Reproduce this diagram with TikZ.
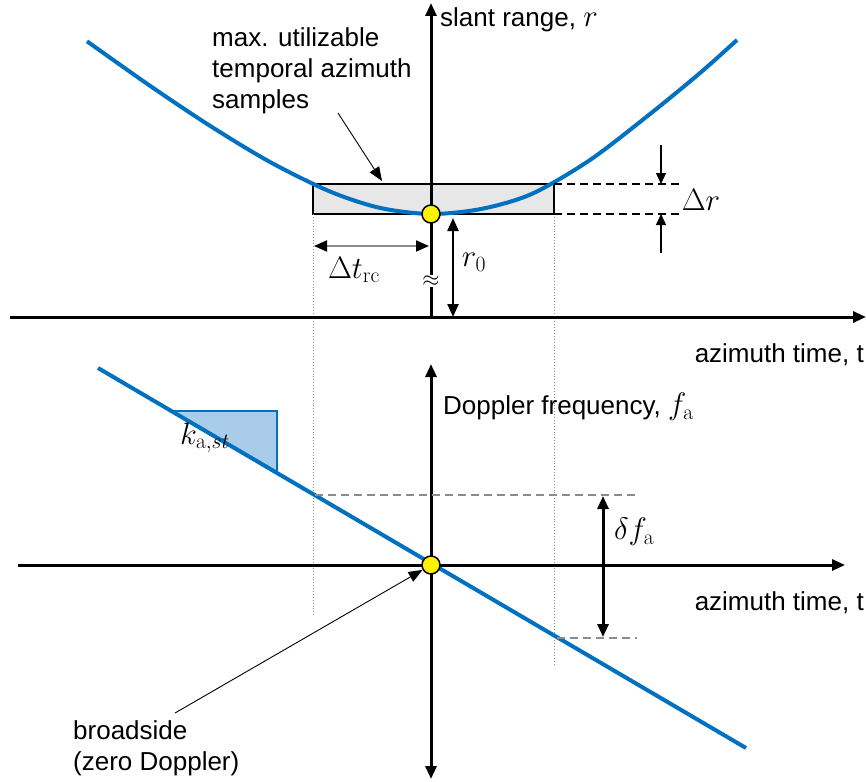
\documentclass[tikz,border=0pt]{standalone}
\usepackage{fix-cm}
\usepackage[no-math]{fontspec}
\setmainfont{Liberation Sans}
\usetikzlibrary{arrows.meta}
\definecolor{myblue}{HTML}{0070C0}
\definecolor{tri}{HTML}{A9CCEA}
\definecolor{boxgray}{HTML}{E7E7E7}
\definecolor{dgray}{HTML}{8C8C8C}
\begin{document}
\begin{tikzpicture}[x=1pt,y=-1pt,
  lbl/.style={inner sep=0pt,font=\fontsize{26}{31}\selectfont},
  mlbl/.style={inner sep=0pt,font=\fontsize{31}{36}\selectfont},
  axis/.style={line width=3pt,-{Triangle[length=13pt,width=11pt]}},
  curve/.style={myblue,line width=4pt},
  dot/.style={circle,draw=black,line width=1.5pt,fill=yellow,minimum size=18pt,inner sep=0pt},
  guide/.style={dgray,line width=0.9pt,dotted},
  gdash/.style={dgray,line width=2.8pt,dash pattern=on 8pt off 5pt},
  kdash/.style={black,line width=1.7pt,dash pattern=on 8pt off 5pt},
  thinarr/.style={line width=0.9pt,-{Triangle[length=14pt,width=11pt]}}
]
\useasboundingbox (0,0) rectangle (866,781);
% ---------- coordinates ----------
\coordinate (O1) at (431,214);
\coordinate (O2) at (431,565);
% ---------- top panel ----------
\fill[boxgray] (313,184) rectangle (554,214);
\draw[black,line width=1.6pt] (313,184) rectangle (554,214);
\draw[guide] (313,214) -- (313,617);
\draw[guide] (554,214) -- (554,665);
\coordinate (ta0) at (10,317);
\coordinate (ta1) at (866,317);
\draw[axis] (ta0) -- (ta1);
\coordinate (va0) at (431,317);
\coordinate (va1) at (431,3);
\draw[axis] (va0) -- (va1);
\node[lbl,fill=white,inner sep=1pt,font=\fontsize{22}{22}\selectfont] (brk) at (431,281) {$\approx$};
\draw[curve] plot[smooth] coordinates {(87,41.3) (150,85.8) (210,125.8) (270,162) (330,191.5) (380,207.9) (431,214) (482,208.8) (532,193.8) (590,160) (650,114) (700,73) (737,40)};
\node[dot] (c1) at (O1) {};
\draw[kdash] (554,184) -- (680,184);
\draw[kdash] (554,214) -- (680,214);
\coordinate (dr1) at (661,145);
\coordinate (dr1e) at (661,184);
\coordinate (dr2) at (661,253);
\coordinate (dr2e) at (661,214);
\draw[line width=1.2pt,-{Triangle[length=11pt,width=10pt]}] (dr1) -- (dr1e);
\draw[line width=1.2pt,-{Triangle[length=11pt,width=10pt]}] (dr2) -- (dr2e);
\node[mlbl] (dr) at (701,200) {$\Delta r$};
\coordinate (dt0) at (314,246);
\coordinate (dt1) at (429,246);
\draw[dgray,line width=1.8pt,{Triangle[length=13pt,width=11pt,color=black]}-{Triangle[length=13pt,width=11pt,color=black]}] (dt0) -- (dt1);
\node[mlbl] (dt) at (354,270) {$\Delta t_{\mathrm{rc}}$};
\coordinate (r00) at (453,218);
\coordinate (r01) at (453,317);
\draw[line width=2.3pt,{Triangle[length=13pt,width=11pt]}-{Triangle[length=13pt,width=11pt]}] (r00) -- (r01);
\node[mlbl] (r0) at (474,262) {$r_0$};
\node[lbl,anchor=west] (sr) at (440,20) {slant range, {\fontsize{31}{36}\selectfont$r$}};
\node[lbl,anchor=west,align=left] (mx) at (212,71) {max. utilizable\\temporal azimuth\\samples};
\coordinate (ma0) at (338,113);
\coordinate (ma1) at (382,181);
\draw[thinarr] (ma0) -- (ma1);
\node[lbl,anchor=east] (az1) at (864,355) {azimuth time, t};
% ---------- bottom panel ----------
\coordinate (ba0) at (18,565);
\coordinate (ba1) at (845,565);
\draw[axis] (ba0) -- (ba1);
\coordinate (bv0) at (431,779);
\coordinate (bv1) at (431,364);
\draw[line width=3pt,{Triangle[length=13pt,width=11pt]}-{Triangle[length=13pt,width=11pt]}] (bv0) -- (bv1);
\fill[tri] (172,411) -- (277,411) -- (277,472) -- cycle;
\draw[myblue,line width=1.3pt] (172,411) -- (277,411) -- (277,472);
\coordinate (dl0) at (98,368);
\coordinate (dl1) at (746,748);
\draw[curve] (dl0) -- (dl1);
\node[mlbl] (ka) at (205,438) {$k_{\mathrm{a},st}$};
\draw[gdash] (315,495) -- (637,495);
\draw[gdash] (557,638) -- (637,638);
\coordinate (df0) at (603,496);
\coordinate (df1) at (603,637);
\draw[line width=3pt,{Triangle[length=13pt,width=11pt]}-{Triangle[length=13pt,width=11pt]}] (df0) -- (df1);
\node[mlbl] (df) at (634,532) {$\delta f_{\mathrm{a}}$};
\node[dot] (c2) at (O2) {};
\node[lbl,anchor=west] (dop) at (443,407) {Doppler frequency, {\fontsize{31}{36}\selectfont$f_{\mathrm{a}}$}};
\node[lbl,anchor=east] (az2) at (864,603) {azimuth time, t};
\node[lbl,anchor=west,align=left] (bs) at (73,748) {broadside\\(zero Doppler)};
\coordinate (bsa) at (175,713);
\draw[thinarr] (bsa) -- (c2.210);
\end{tikzpicture}
\end{document}
